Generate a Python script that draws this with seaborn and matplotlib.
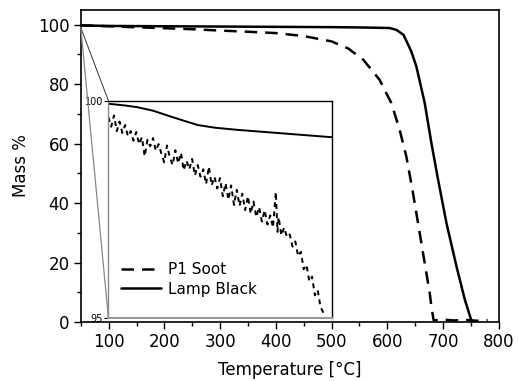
import matplotlib
matplotlib.use("Agg")
import matplotlib.pyplot as plt
import numpy as np
import pandas as pd
import seaborn as sns
from matplotlib.patches import ConnectionPatch
from matplotlib.ticker import MultipleLocator

# ---- data ----
soot_T = [50, 100, 150, 200, 250, 300, 350, 400, 450, 500, 530, 557, 586, 607, 622,
          634, 645, 655, 667, 676, 679, 683, 690, 700, 720, 740, 760, 780]
soot_m = [99.8, 99.5, 99.15, 98.85, 98.5, 98.05, 97.65, 97.2, 96.2, 94.4, 92.0, 88.2,
          81.5, 73.7, 64.7, 55.7, 44.5, 33.3, 19.8, 9.7, 5.2, 0.6, 0.6, 0.8, 0.5, 0.7, 0.4, 0.6]

lamp_T = [50, 100, 200, 300, 400, 500, 550, 580, 604, 616, 629, 643, 652, 667, 679,
          691, 706, 724, 739, 751, 760]
lamp_m = [99.8, 99.6, 99.5, 99.4, 99.3, 99.2, 99.1, 99.0, 98.9, 98.3, 96.6, 91.0, 86.0,
          73.7, 60.2, 47.9, 33.3, 18.7, 7.5, 0.3, 0.2]

inset_soot_T = [100, 105, 110, 115, 120, 125, 130, 135, 140, 145, 150, 155, 160, 165, 170,
                175, 180, 185, 190, 195, 200, 205, 210, 215, 220, 225, 230, 235, 240, 245,
                250, 255, 260, 265, 270, 275, 280, 285, 290, 295, 300, 305, 310, 315, 320,
                325, 330, 335, 340, 345, 350, 355, 360, 365, 370, 375, 380, 385, 390, 395,
                400, 403, 405, 410, 415, 420, 425, 430, 435, 440, 445, 450, 455, 460, 465,
                470, 475, 480, 485]
inset_soot_m = [99.62, 99.40, 99.66, 99.30, 99.52, 99.26, 99.44, 99.18, 99.30, 99.08,
                99.28, 99.00, 99.16, 98.72, 99.10, 98.95, 99.14, 98.85, 99.00, 98.78,
                98.58, 98.97, 98.70, 98.52, 98.86, 98.56, 98.80, 98.40, 98.62, 98.42,
                98.66, 98.28, 98.52, 98.25, 98.42, 98.08, 98.48, 98.05, 98.25, 97.98,
                98.22, 97.80, 98.10, 97.72, 98.05, 97.60, 97.95, 97.58, 97.86, 97.48,
                97.80, 97.40, 97.68, 97.32, 97.55, 97.22, 97.48, 97.15, 97.36, 97.08,
                97.90, 96.98, 97.32, 96.90, 97.08, 96.86, 96.92, 96.64, 96.76, 96.42,
                96.52, 96.12, 96.22, 95.84, 95.95, 95.52, 95.64, 95.26, 95.12]

inset_lamp_T = [100, 130, 152, 180, 213, 240, 260, 290, 330, 370, 420, 460, 500]
inset_lamp_m = [99.93, 99.89, 99.85, 99.77, 99.63, 99.52, 99.44, 99.38, 99.33, 99.29,
                99.24, 99.20, 99.16]

labels = ["P1 Soot", "Lamp Black"]
x_ticks = [100, 200, 300, 400, 500, 600, 700, 800]
y_ticks = [0, 20, 40, 60, 80, 100]

main_df = pd.concat([
    pd.DataFrame({"T": soot_T, "m": soot_m, "s": labels[0]}),
    pd.DataFrame({"T": lamp_T, "m": lamp_m, "s": labels[1]}),
], ignore_index=True)
inset_df = pd.concat([
    pd.DataFrame({"T": inset_soot_T, "m": inset_soot_m, "s": labels[0]}),
    pd.DataFrame({"T": inset_lamp_T, "m": inset_lamp_m, "s": labels[1]}),
], ignore_index=True)

sns.set_style("ticks")
plt.rcParams["font.family"] = ["DejaVu Sans"]
plt.rcParams["text.color"] = "black"
plt.rcParams["axes.labelcolor"] = "black"
plt.rcParams["xtick.color"] = "black"
plt.rcParams["ytick.color"] = "black"

fig = plt.figure(figsize=(5.18, 3.81), dpi=100)
ax = fig.add_axes([0.156, 0.155, 0.807, 0.819])

dash_map = {labels[0]: (5, 3.2), labels[1]: ""}
sns.lineplot(data=main_df, x="T", y="m", style="s", dashes=dash_map,
             color="black", linewidth=1.8, ax=ax, legend=False, sort=False,
             estimator=None)

ax.set_xlim(50, 800)
ax.set_ylim(0, 105)
ax.set_xticks(x_ticks)
ax.set_yticks(y_ticks)
ax.xaxis.set_minor_locator(MultipleLocator(50))
ax.yaxis.set_minor_locator(MultipleLocator(10))
ax.tick_params(which="major", direction="out", length=5, width=1, labelsize=12,
               colors="black", pad=3)
ax.tick_params(which="minor", direction="out", length=3, width=1)
for sp in ax.spines.values():
    sp.set_visible(True)
    sp.set_linewidth(1.2)
    sp.set_color("black")
ax.set_xlabel("Temperature [°C]", fontsize=12, labelpad=7, color="black")
ax.set_ylabel("Mass %", fontsize=12, labelpad=6, color="black")

# ---- inset ----
ins = ax.inset_axes([0.066, 0.013, 0.534, 0.696])
ins_dash = {labels[0]: (2.5, 2.2), labels[1]: ""}
sns.lineplot(data=inset_df, x="T", y="m", style="s", dashes=ins_dash,
             color="black", linewidth=1.4, ax=ins, sort=False, estimator=None)
ins.set_xlim(100, 500)
ins.set_ylim(95, 100)
ins.set_xticks([])
ins.set_yticks([95, 100])
ins.set_yticklabels(["95", "100"])
ins.tick_params(axis="y", direction="out", length=3, width=0.8, labelsize=7, pad=1,
                colors="black")
ins.set_xlabel("")
ins.set_ylabel("")
ins.spines["top"].set_color("black")
ins.spines["right"].set_color("black")
ins.spines["left"].set_color("#8a8a8a")
ins.spines["bottom"].set_color("#9a9a9a")
for sp in ins.spines.values():
    sp.set_visible(True)
    sp.set_linewidth(1.0)
ins.spines["bottom"].set_linewidth(1.5)

leg = ins.legend(loc="lower left", bbox_to_anchor=(0.03, 0.07), frameon=False,
                 fontsize=11, handlelength=2.6, handletextpad=0.45,
                 labelspacing=0.3, borderaxespad=0)
for t in leg.get_texts():
    t.set_color("black")
for h, d in zip(leg.get_lines(), [(5, 3.2), None]):
    h.set_color("black")
    h.set_linewidth(1.8)
    if d is not None:
        h.set_dashes(d)

# zoom indicator lines
for corner, col, lw in [((0, 1), "#333333", 0.7), ((0, 0), "#888888", 0.9)]:
    cp = ConnectionPatch(xyA=(50, 99.0), coordsA=ax.transData,
                         xyB=corner, coordsB=ins.transAxes,
                         color=col, linewidth=lw)
    fig.add_artist(cp)

fig.savefig("out.png", dpi=100)
